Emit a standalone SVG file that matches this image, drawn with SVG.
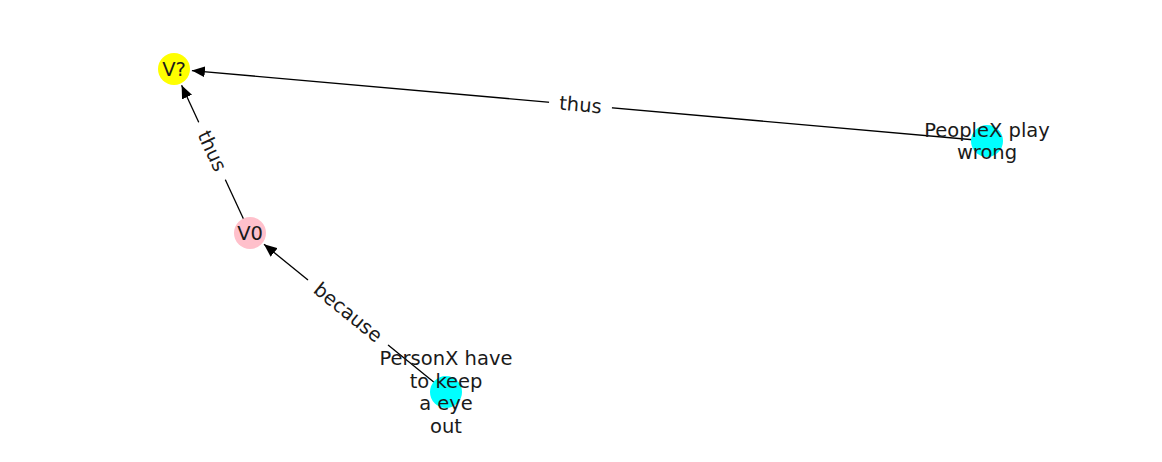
<svg xmlns="http://www.w3.org/2000/svg" width="1162" height="462" viewBox="0 0 1162 462">
<style>
text{font-family:"DejaVu Sans","Liberation Sans",sans-serif;font-size:19.5px;fill:#1a1a1a;text-anchor:middle;dominant-baseline:central}
.edge{stroke:#000;stroke-width:1.3;fill:none}
.lblbg{fill:#fff;stroke:#fff}
</style>
<defs>
<marker id="arr" markerUnits="userSpaceOnUse" markerWidth="14" markerHeight="12" refX="13" refY="6" orient="auto">
<path d="M0,0.5 L13,6 L0,11.5 z" fill="#000"/>
</marker>
</defs>
<rect width="1162" height="462" fill="#fff"/>
<g id="connectors">
<line class="edge" x1="987" y1="141" x2="191.9" y2="70.6" marker-end="url(#arr)"/>
<line class="edge" x1="250" y1="233" x2="181.6" y2="85.3" marker-end="url(#arr)"/>
<line class="edge" x1="446" y1="392" x2="264" y2="244.3" marker-end="url(#arr)"/>
<g transform="translate(580.5,105) rotate(5.06)">
<rect class="lblbg" x="-31" y="-15" width="62" height="30" rx="4"/>
<text x="0" y="0">thus</text>
</g>
<g transform="translate(212,151) rotate(65.13)">
<rect class="lblbg" x="-31" y="-15" width="62" height="30" rx="4"/>
<text x="0" y="0">thus</text>
</g>
<g transform="translate(348,312.5) rotate(39.05)">
<rect class="lblbg" x="-51" y="-15" width="102" height="30" rx="4"/>
<text x="0" y="0">because</text>
</g>
</g>
<g id="node-vq">
<circle cx="174" cy="69" r="16" fill="#ffff00"/>
<text x="174" y="69">V?</text>
</g>
<g id="node-v0">
<circle cx="250" cy="233" r="16" fill="#ffc0cb"/>
<text x="250" y="233">V0</text>
</g>
<g id="node-personx">
<circle cx="446" cy="392" r="16" fill="#00ffff"/>
<text x="446" y="358.5">PersonX have</text>
<text x="446" y="381">to keep</text>
<text x="446" y="403.5">a eye</text>
<text x="446" y="426">out</text>
</g>
<g id="node-peoplex">
<circle cx="987" cy="141" r="16" fill="#00ffff"/>
<text x="987" y="130">PeopleX play</text>
<text x="987" y="152">wrong</text>
</g>
</svg>
